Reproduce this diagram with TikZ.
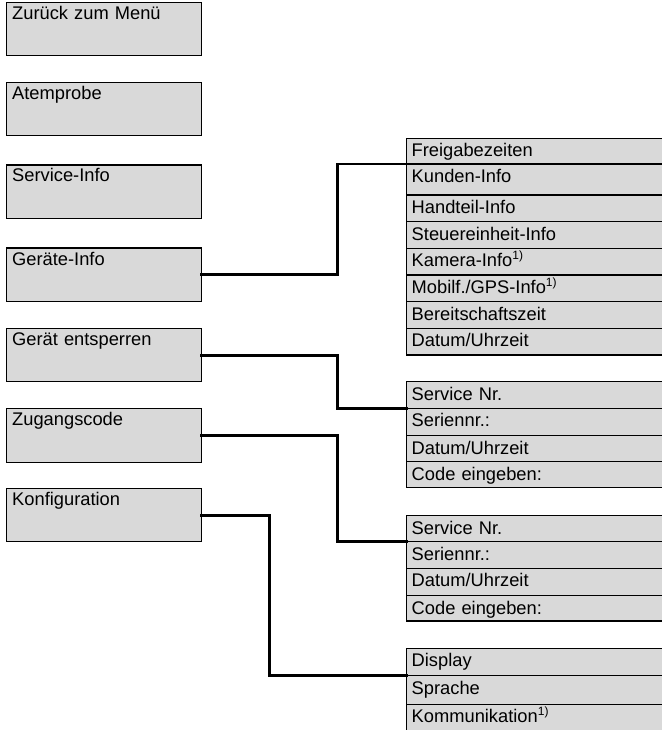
\documentclass[tikz,border=0pt]{standalone}
\usepackage{fontspec}
\setmainfont{Liberation Sans}
\definecolor{boxgray}{RGB}{217,217,217}
\newcommand{\supone}{\raisebox{7pt}{\fontsize{12}{12}\selectfont 1)}}
\begin{document}
\begin{tikzpicture}[x=1pt,y=-1pt,
  every node/.style={font=\fontsize{18.3}{20}\selectfont, outer sep=0pt},
  lbox/.style={draw=black, line width=1.2pt, fill=boxgray, anchor=north west,
    text width=184pt, align=left, inner xsep=5.5pt, inner ysep=0pt,
    text height=17pt, text depth=36.5pt},
  rrow/.style={draw=black, line width=1.2pt, fill=boxgray, anchor=north west,
    text width=263pt, align=left, inner xsep=5pt, inner ysep=0pt,
    text height=18.5pt, text depth=#1},
  conn/.style={line width=2.9pt, line cap=rect, line join=miter}]
\useasboundingbox (0,0) rectangle (661,730);
% left menu
\node[lbox] (zur) at (6.7,2.3) {Zurück zum Menü};
\node[lbox] (atem) at (6.7,82.3) {Atemprobe};
\node[lbox] (serv) at (6.7,165) {Service-Info};
\node[lbox] (ger) at (6.7,248) {Geräte-Info};
\node[lbox] (ent) at (6.7,328.3) {Gerät entsperren};
\node[lbox] (zug) at (6.7,408.7) {Zugangscode};
\node[lbox] (konf) at (6.7,488.3) {Konfiguration};
% group 1
\node[rrow=7.2pt] (a1) at (406.7,138.3) {Freigabezeiten};
\node[rrow=12.5pt] (a2) at (406.7,164) {Kunden-Info};
\node[rrow=8.2pt] (a3) at (406.7,195) {Handteil-Info};
\node[rrow=8.2pt] (a4) at (406.7,221.7) {Steuereinheit-Info};
\node[rrow=8.2pt] (a5) at (406.7,248.3) {Kamera-Info\supone};
\node[rrow=8.2pt] (a6) at (406.7,275) {Mobilf./GPS-Info\supone};
\node[rrow=8.2pt] (a7) at (406.7,301.7) {Bereitschaftszeit};
\node[rrow=8.2pt] (a8) at (406.7,328.3) {Datum/Uhrzeit};
% group 2
\node[rrow=8.1pt] (b1) at (406.7,381.7) {Service Nr.};
\node[rrow=8.9pt] (b2) at (406.7,408.3) {Seriennr.:};
\node[rrow=7.5pt] (b3) at (406.7,435.7) {Datum/Uhrzeit};
\node[rrow=7.5pt] (b4) at (406.7,461.7) {Code eingeben:};
% group 3
\node[rrow=7.5pt] (c1) at (406.7,515.7) {Service Nr.};
\node[rrow=8.1pt] (c2) at (406.7,541.7) {Seriennr.:};
\node[rrow=8.9pt] (c3) at (406.7,568.3) {Datum/Uhrzeit};
\node[rrow=6.8pt] (c4) at (406.7,595.7) {Code eingeben:};
% group 4
\node[rrow=8.9pt] (d1) at (406.7,648.3) {Display};
\node[rrow=10.1pt] (d2) at (406.7,675.7) {Sprache};
\node[rrow=12pt] (d3) at (406.7,704.3) {Kommunikation\supone};
% connectors
\draw[conn] (ger.east) -- ++(136,0) |- (a1.south west);
\draw[conn] (ent.east) -- ++(136,0) |- (b1.south west);
\draw[conn] (zug.east) -- ++(136,0) |- (c1.south west);
\draw[conn] (konf.east) -- ++(67.6,0) |- (d1.south west);
\end{tikzpicture}
\end{document}
